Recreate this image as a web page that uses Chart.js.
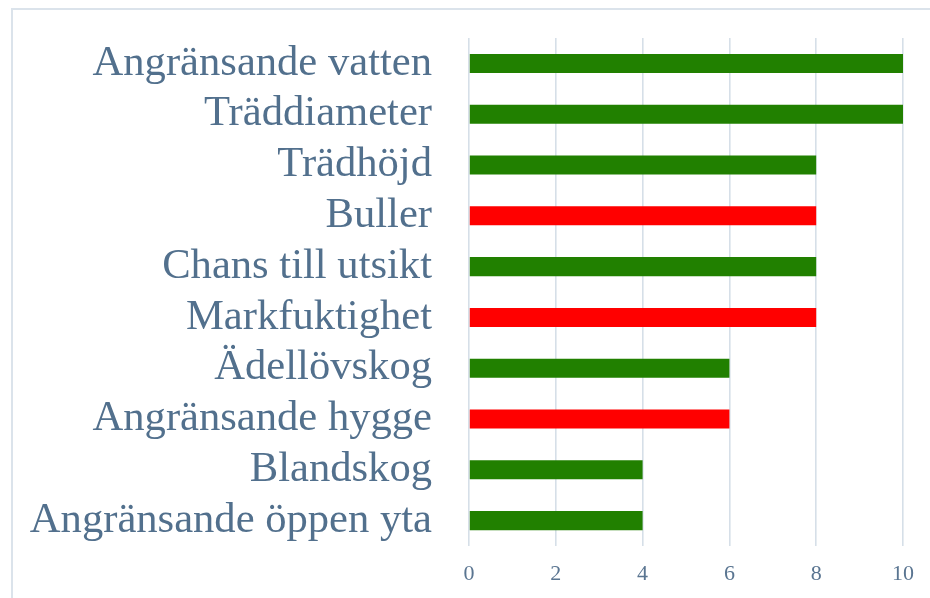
<!DOCTYPE html>
<html>
<head>
<meta charset="utf-8">
<script src="https://cdn.jsdelivr.net/npm/chart.js@4/dist/chart.umd.min.js"></script>
<style>
  html, body { margin: 0; padding: 0; background: #fff; overflow: hidden; }
  #wrap { position: relative; width: 930px; height: 598px; }
  #frame { position: absolute; left: 11px; top: 8px; width: 1000px; height: 700px;
           border-left: 2px solid #dbe3eb; border-top: 2px solid #dbe3eb; }
  canvas { position: absolute; left: 0; top: 0; }
</style>
</head>
<body>
<div id="wrap">
  <div id="frame"></div>
  <canvas id="chart" width="930" height="598"></canvas>
</div>
<script>
// Faktorer och poäng
const kategorier = [
  'Angränsande vatten', 'Träddiameter', 'Trädhöjd', 'Buller', 'Chans till utsikt',
  'Markfuktighet', 'Ädellövskog', 'Angränsande hygge', 'Blandskog', 'Angränsande öppen yta'
];
const poang = [10, 10, 8, 8, 8, 8, 6, 6, 4, 4];
// positiv (grön) eller negativ (röd) faktor
const positiv = [true, true, true, false, true, false, true, false, true, true];
const xTicks = [0, 2, 4, 6, 8, 10];

const GRON = '#218000';
const ROD = '#ff0000';
const TEXT = '#52708d';
const SERIF = '"Liberation Serif", "Times New Roman", serif';

new Chart(document.getElementById('chart'), {
  type: 'bar',
  data: {
    labels: kategorier,
    datasets: [{
      data: poang,
      backgroundColor: positiv.map(p => p ? GRON : ROD),
      borderWidth: 0,
      barPercentage: 0.375,
      categoryPercentage: 1
    }]
  },
  options: {
    indexAxis: 'y',
    responsive: false,
    animation: false,
    layout: { padding: { left: 0, right: 27, top: 38, bottom: 0 } },
    plugins: { legend: { display: false }, tooltip: { enabled: false } },
    scales: {
      x: {
        min: 0,
        max: 10,
        afterBuildTicks: (axis) => { axis.ticks = xTicks.map(v => ({ value: v })); },
        afterFit: (axis) => {
          axis.height = 52;
          axis.paddingBottom = 0;
        },
        grid: { color: '#d6dfe8', lineWidth: 1.6, drawTicks: false },
        border: { display: false },
        ticks: {
          padding: 15,
          color: '#5a7591',
          font: { family: SERIF, size: 22 }
        }
      },
      y: {
        grid: { display: false, drawTicks: false },
        border: { display: false },
        afterFit: (axis) => {
          // fast bredd på etikettkolumnen, ingen extra luft över/under
          axis.width = 469;
          axis.paddingTop = 0;
          axis.paddingBottom = 0;
        },
        ticks: {
          autoSkip: false,
          padding: 37,
          color: TEXT,
          font: { family: SERIF, size: 42.6 }
        }
      }
    }
  }
});
</script>
</body>
</html>
